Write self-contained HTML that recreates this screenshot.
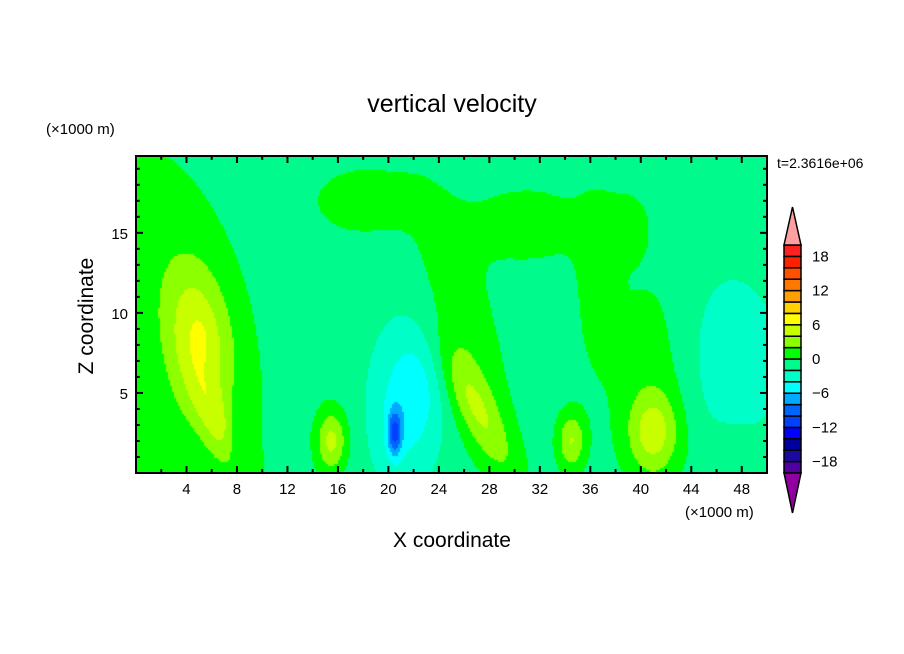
<!DOCTYPE html>
<html><head><meta charset="utf-8"><style>
body{margin:0;background:#fff;width:904px;height:654px;overflow:hidden;font-family:"Liberation Sans",sans-serif}
#wrap{position:relative;width:904px;height:654px}
canvas{position:absolute;left:136px;top:156px}
svg{position:absolute;left:0;top:0}
</style></head><body><div id="wrap">
<canvas id="cv" width="631" height="317"></canvas>
<svg id="sv" width="904" height="654">
<text x="452" y="112" font-size="25" text-anchor="middle">vertical velocity</text>
<text x="46" y="134" font-size="15">(×1000 m)</text>
<text x="93" y="316" font-size="21" text-anchor="middle" transform="rotate(-90 93 316)">Z coordinate</text>
<text x="452" y="547" font-size="21" text-anchor="middle">X coordinate</text>
<text x="685" y="517" font-size="15">(×1000 m)</text>
<text x="777" y="168" font-size="14">t=2.3616e+06</text>
<g id="axes"></g><g id="cbar"></g>
</svg></div>
<script>
// data
const xDomain=[0,50], zDomain=[0,19.8];
const xTicks=[4,8,12,16,20,24,28,32,36,40,44,48];
const zTicks=[5,10,15];
const levels=[-20,-18,-16,-14,-12,-10,-8,-6,-4,-2,0,2,4,6,8,10,12,14,16,18,20];
const levelColors=["#5000a0","#1a0aa0","#0000a0","#0000ff","#0040ff","#0064ff","#00aaff","#00ffff","#00ffc8","#00fa8c","#00ff00","#8cff00","#c8ff00","#ffff00","#ffd200","#ffa000","#ff7800","#ff5000","#ff2000","#ff2020"];
const cbarLabels=[18,12,6,0,-6,-12,-18];
const baseValue=-1;
// blobs: x, z, amplitude, sx, sz, tilt(dx per dz)
const blobX=[4,5,5,6.5,15.5,20.5,21,18,26,31,36.5,27,34.5,41,41,47,23,39,1,8,47];
const blobZ=[9,8.5,8.3,3,2,2.5,4,17,9,15.5,12,4,2,2.5,6,7,6,15.5,2,2,1];
const blobA=[2.1,4.8,1.2,3.5,5.5,-7,-3.5,2.0,2.2,2.0,1.8,4,5,5,2.0,-2.3,-2,1.6,1.6,-2,1.5];
const blobSx=[4.0,1.8,0.4,1.1,0.85,0.4,1.8,3.0,2,3.5,1.2,1.3,0.8,1.4,2.5,3,1.5,1.2,1.5,0.6,1.5];
const blobSz=[9,3.2,0.8,2.4,1.4,1.0,3.5,1.6,6,1.8,4,3,1.3,1.8,5,4,3,1.5,2,1.5,1.2];
const blobT=[-0.25,-0.15,0,-0.5,0,0,0,0,-0.3,0,0,-0.6,0,0,0,0,0,0,0,0,0];

const X0=136,X1=767,Y0=473,Y1=156;
const sx=v=>X0+(v-xDomain[0])/(xDomain[1]-xDomain[0])*(X1-X0);
const sy=v=>Y0-(v-zDomain[0])/(zDomain[1]-zDomain[0])*(Y0-Y1);
function field(x,z){let v=baseValue;for(let i=0;i<blobX.length;i++){const dz=(z-blobZ[i])/blobSz[i];const dx=(x-blobX[i]-blobT[i]*(z-blobZ[i]))/blobSx[i];v+=blobA[i]*Math.exp(-0.5*(dx*dx+dz*dz));}return v;}
function colorFor(v){for(let k=0;k<levelColors.length;k++){if(v<levels[k+1])return levelColors[k];}return levelColors[levelColors.length-1];}
const cv=document.getElementById('cv'),ctx=cv.getContext('2d');
for(let py=0;py<317;py+=2)for(let px=0;px<631;px+=2){
 const x=xDomain[0]+(px+1)/631*(xDomain[1]-xDomain[0]);
 const z=zDomain[1]-(py+1)/317*(zDomain[1]-zDomain[0]);
 ctx.fillStyle=colorFor(field(x,z));ctx.fillRect(px,py,2,2);}
const NS='http://www.w3.org/2000/svg';
function mk(t,a,p){const e=document.createElementNS(NS,t);for(const k in a)e.setAttribute(k,a[k]);p.appendChild(e);return e;}
const ax=document.getElementById('axes');
const frame=mk('rect',{x:X0,y:Y1,width:X1-X0,height:Y0-Y1,fill:'none',stroke:'#000','stroke-width':2},ax);


for(let v=2;v<50;v+=2){const major=xTicks.includes(v);const l=major?7:4;
 mk('line',{x1:sx(v),x2:sx(v),y1:Y0,y2:Y0-l,stroke:'#000','stroke-width':2},ax);
 mk('line',{x1:sx(v),x2:sx(v),y1:Y1,y2:Y1+l,stroke:'#000','stroke-width':2},ax);}
xTicks.forEach(v=>{const t=mk('text',{x:sx(v),y:Y0+21,'font-size':15,'text-anchor':'middle'},ax);t.textContent=v;
 
 });
for(let v=1;v<20;v++){const major=zTicks.includes(v);const l=major?7:4;
 mk('line',{x1:X0,x2:X0+l,y1:sy(v),y2:sy(v),stroke:'#000','stroke-width':2},ax);
 mk('line',{x1:X1,x2:X1-l,y1:sy(v),y2:sy(v),stroke:'#000','stroke-width':2},ax);}
zTicks.forEach(v=>{const t=mk('text',{x:X0-8,y:sy(v)+6,'font-size':15,'text-anchor':'end'},ax);t.textContent=v;
 
 });
// colorbar
const cb=document.getElementById('cbar');const CX=784,CW=17,CT=245,CB=473;const bh=(CB-CT)/levelColors.length;
const cy=v=>CB-(v-levels[0])/(levels[levels.length-1]-levels[0])*(CB-CT);
levelColors.forEach((c,k)=>{const r=mk('rect',{x:CX,y:cy(levels[k+1]),width:CW,height:bh,fill:c,stroke:'#000','stroke-width':1.5},cb);
 
 });
const up=mk('polygon',{points:`${CX},${CT} ${CX+CW/2},207 ${CX+CW},${CT}`,fill:'#ffa0a0',stroke:'#000','stroke-width':1.5},cb);


const dn=mk('polygon',{points:`${CX},${CB} ${CX+CW/2},513 ${CX+CW},${CB}`,fill:'#9000a0',stroke:'#000','stroke-width':1.5},cb);


cbarLabels.forEach(v=>{const t=mk('text',{x:812,y:cy(v)+5,'font-size':15},cb);t.textContent=v<0?'\u2212'+(-v):v;
 
 });
</script></body></html>
